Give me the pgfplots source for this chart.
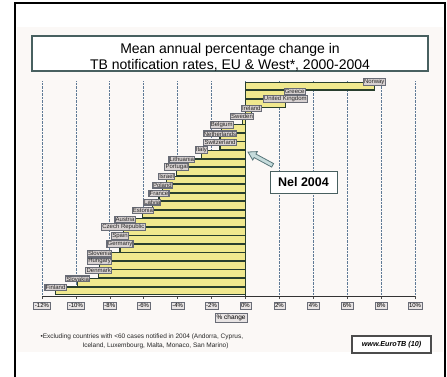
\documentclass[border=0pt]{standalone}
\usepackage{fontspec}
\setmainfont{Liberation Sans}
\usepackage{pgfplots}
\pgfplotsset{compat=1.18}
\usepackage{pgfplotstable}

\definecolor{baryellow}{RGB}{240,232,142}
\definecolor{baredge}{RGB}{40,62,46}
\definecolor{gridblue}{RGB}{95,122,150}
\definecolor{titleframe}{RGB}{72,96,96}
\definecolor{tagfill}{RGB}{216,210,210}
\definecolor{tagdraw}{RGB}{105,108,118}
\definecolor{arrowfill}{RGB}{198,220,220}
\definecolor{arrowdraw}{RGB}{88,118,122}
\definecolor{slidebg}{RGB}{251,248,246}

% Mean annual change (%) of TB notification rates, 2000-2004
\pgfplotstableread[col sep=comma]{
change,row,country
7.6,24,Norway
2.9,23,Greece
2.35,22,United Kingdom
0.35,21,Ireland
-0.2,20,Sweden
-1.4,19,Belgium
-1.5,18,Netherlands
-1.5,17,Switzerland
-2.6,16,Italy
-3.75,15,Lithuania
-4.05,14,Portugal
-4.65,13,Israel
-4.9,12,Poland
-5.1,11,France
-5.5,10,Latvia
-6.05,9,Estonia
-7.1,8,Austria
-7.2,7,Czech Republic
-7.4,6,Spain
-7.4,5,Germany
-8.6,4,Slovenia
-8.6,3,Hungary
-8.65,2,Denmark
-9.9,1,Slovakia
-11.2,0,Finland
}\tbchange

\begin{document}
\begin{tikzpicture}[x=1pt,y=1pt]
\useasboundingbox (0,0) rectangle (447,376);
% slide background and frame
\fill[slidebg] (17,24) rectangle (443,349);
\begin{scope}
  \clip (0,0) rectangle (447,376);
  \draw[black, line width=1.2pt] (15,-5) rectangle (445,373);
\end{scope}

% title
\draw[titleframe, line width=1.5pt, fill=white] (32,305) rectangle (428,340);
\node[anchor=base, font=\fontsize{14}{16}\selectfont] at (230,323) {Mean annual percentage change in};
\node[anchor=base, font=\fontsize{14}{16}\selectfont] at (230,307) {TB notification rates, EU \& West*, 2000-2004};

\begin{axis}[
  at={(42pt,80pt)}, anchor=south west,
  scale only axis, width=373pt, height=215pt,
  xmin=-12, xmax=10, ymin=-0.6, ymax=24.6,
  axis x line*=bottom, axis y line=none,
  x axis line style={-, draw=black!80, line width=0.6pt},
  xtick={-12,-10,...,10},
  xticklabel={\pgfmathprintnumber[assume math mode=true]{\tick}\%},
  xticklabel style={draw=tagdraw, fill=tagfill!60, inner sep=1.3pt,
    font=\fontsize{6}{7}\selectfont, anchor=north, yshift=-3.5pt},
  tick align=outside, major tick length=2.5pt,
  xtick style={draw=black!70, line width=0.5pt},
  xmajorgrids, grid style={densely dotted, gridblue, line width=0.8pt},
  xlabel={\% change},
  xlabel style={at={(axis description cs:0.507,-0.1)}, anchor=center,
    draw=tagdraw, fill=tagfill!60, inner sep=1.3pt,
    font=\fontsize{6.5}{7.5}\selectfont},
  clip=false,
  nodes near coords,
  nodes near coords align={horizontal},
  point meta=explicit symbolic,
  every node near coord/.append style={draw=tagdraw, fill=tagfill,
    inner sep=0.7pt, font=\fontsize{6}{6.5}\selectfont, text=black!85},
]
\addplot[xbar, bar width=7.8pt, fill=baryellow, draw=baredge, line width=1.1pt]
  table[x=change, y=row, meta=country] {\tbchange};
\draw[baredge, line width=1.1pt] (axis cs:0,-0.6) -- (axis cs:0,24.45);
\end{axis}

% annotation
\begin{scope}[shift={(248,224)}, rotate=-28.4]
  \draw[arrowdraw, fill=arrowfill, line width=0.8pt]
    (0,0) -- (8,4.8) -- (8,2) -- (28,2) -- (28,-2) -- (8,-2) -- (8,-4.8) -- cycle;
\end{scope}
\draw[titleframe, line width=1pt, fill=white] (270,183) rectangle (337,205);
\node[font=\fontsize{12.5}{14}\selectfont\bfseries] at (303.5,194) {Nel 2004};

% footnote
\node[anchor=base west, font=\fontsize{6.5}{7.5}\selectfont, text=black!85] at (37,38)
  {•Excluding countries with <60 cases notified in 2004 (Andorra, Cyprus,};
\node[anchor=base west, font=\fontsize{6.5}{7.5}\selectfont, text=black!85] at (79,29)
  {Iceland, Luxembourg, Malta, Monaco, San Marino)};

% source box
\draw[black!70, line width=1.2pt, fill=white] (352,23) rectangle (431,40);
\node[font=\fontsize{7.2}{8}\selectfont\bfseries\itshape] at (391.5,31.5) {www.EuroTB (10)};
\end{tikzpicture}
\end{document}
